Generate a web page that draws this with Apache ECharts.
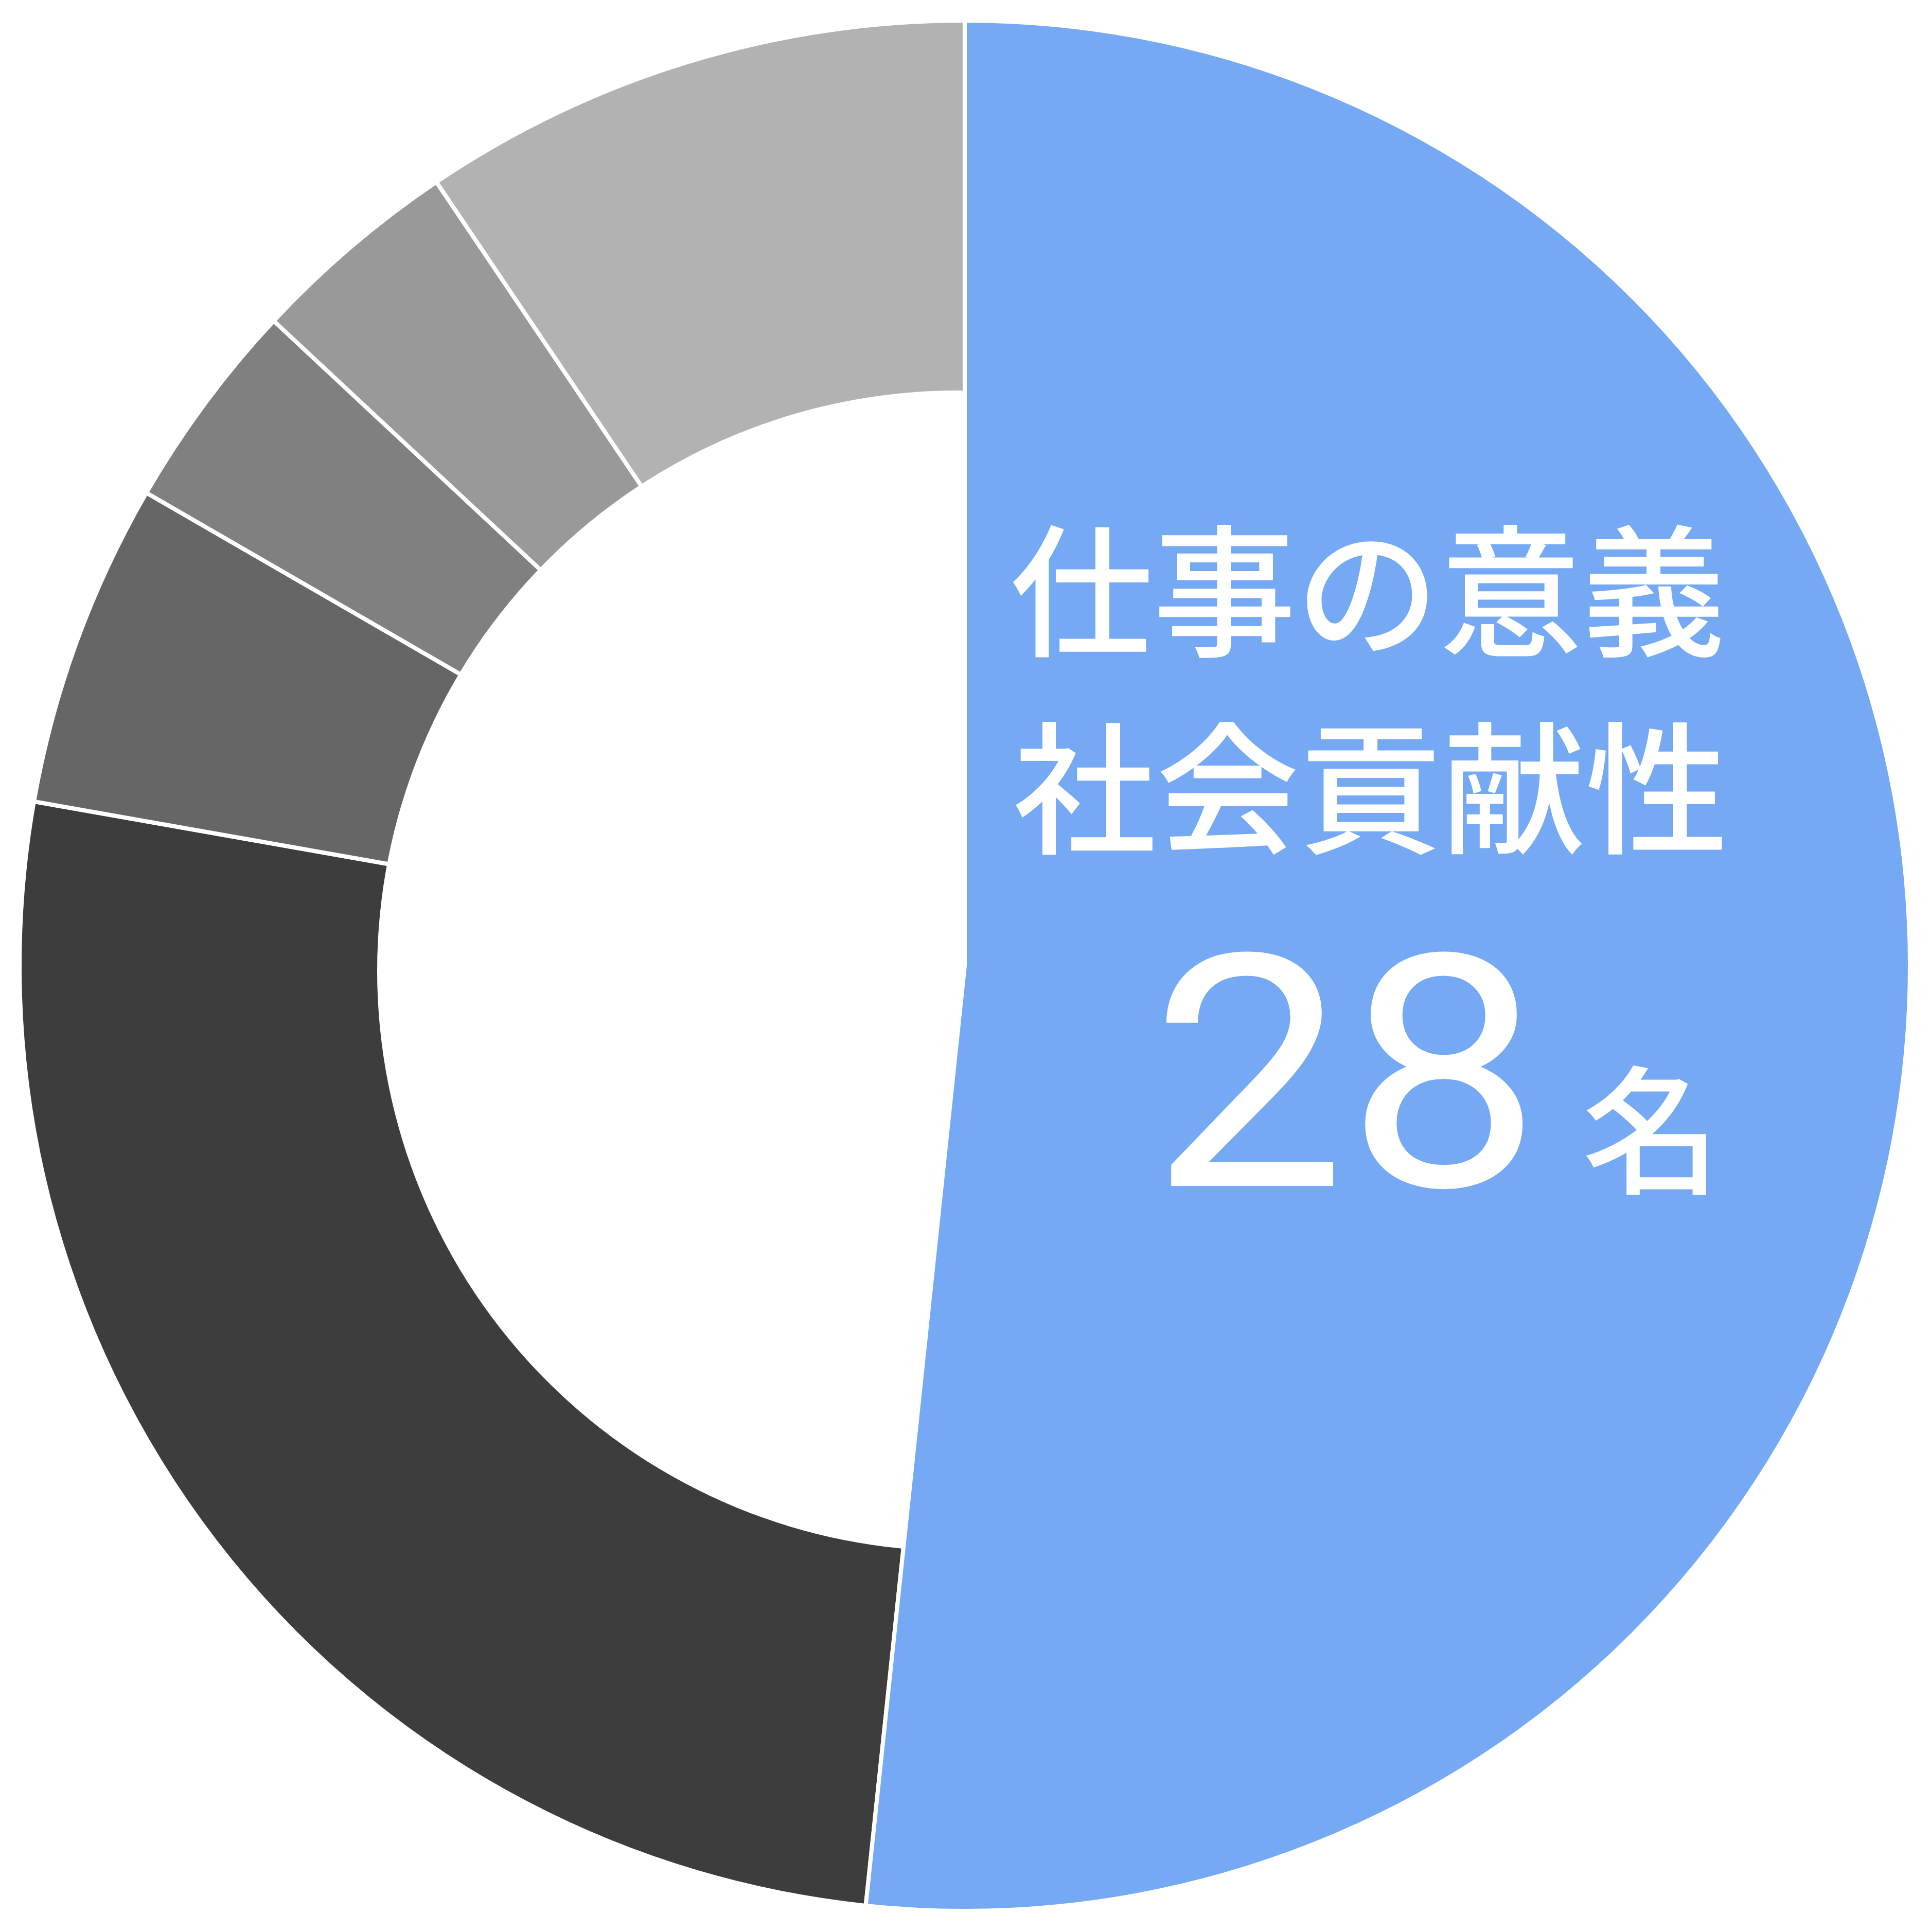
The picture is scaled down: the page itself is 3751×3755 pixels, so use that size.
<!DOCTYPE html>
<html>
<head>
<meta charset="utf-8">
<script src="https://cdn.jsdelivr.net/npm/echarts@6/dist/echarts.min.js"></script>
<style>
html,body{margin:0;padding:0;background:#fff;}
#chart{width:3751px;height:3755px;}
</style>
</head>
<body>
<div id="chart"></div>
<script>
const categories = ['仕事の意義・社会貢献性', '項目B', '項目C', '項目D', '項目E', '項目F'];
const values = [51.67, 26.11, 5.56, 3.61, 3.61, 9.44];
const colors = ['#75a9f4', '#3d3d3d', '#666666', '#808080', '#999999', '#b2b2b2'];
const labelLines = ['仕事の意義', '社会貢献性'];
const countText = '28';
const unitText = '名';

const chart = echarts.init(document.getElementById('chart'), null, {renderer: 'canvas'});

const grayData = categories.map((c, i) => ({
  name: c,
  value: values[i],
  itemStyle: i === 0
    ? {color: 'transparent', borderWidth: 0}
    : {color: colors[i], borderColor: '#ffffff', borderWidth: 8}
}));
const wedgeData = categories.map((c, i) => ({
  name: c,
  value: values[i],
  itemStyle: i === 0
    ? {color: colors[i], borderColor: '#ffffff', borderWidth: 8}
    : {color: 'transparent', borderWidth: 0}
}));

const jpFont = '"Noto Sans CJK JP", "Noto Sans", sans-serif';
const common = {
  type: 'pie', startAngle: 90, clockwise: true,
  label: {show: false}, labelLine: {show: false},
  emphasis: {disabled: true}, silent: true
};

chart.setOption({
  animation: false,
  backgroundColor: '#ffffff',
  series: [
    Object.assign({}, common, {
      center: [1875, 1877],
      radius: [0, 1837],
      data: grayData
    }),
    Object.assign({}, common, {
      center: [1861, 1887],
      radius: [0, 1128],
      data: [{name: 'hole', value: 1, itemStyle: {color: '#ffffff', borderWidth: 0}}]
    }),
    Object.assign({}, common, {
      center: [1875, 1877],
      radius: [0, 1837],
      data: wedgeData
    })
  ],
  graphic: [
    {
      type: 'text', x: 2658, y: 1149, z: 100,
      style: {text: labelLines[0], fill: '#ffffff', fontSize: 278, fontWeight: 500,
        fontFamily: jpFont, align: 'center', verticalAlign: 'middle'}
    },
    {
      type: 'text', x: 2664, y: 1532, z: 100,
      style: {text: labelLines[1], fill: '#ffffff', fontSize: 278, fontWeight: 500,
        fontFamily: jpFont, align: 'center', verticalAlign: 'middle'}
    },
    {
      type: 'text', x: 2616, y: 2147, z: 100, scaleX: 1.07, scaleY: 1,
      style: {text: countText, fill: '#ffffff', fontSize: 632, fontWeight: 400,
        fontFamily: 'Roboto, sans-serif', align: 'center', verticalAlign: 'middle'}
    },
    {
      type: 'text', x: 3210, y: 2197, z: 100,
      style: {text: unitText, fill: '#ffffff', fontSize: 270, fontWeight: 500,
        fontFamily: jpFont, align: 'center', verticalAlign: 'middle'}
    }
  ]
});
</script>
</body>
</html>
